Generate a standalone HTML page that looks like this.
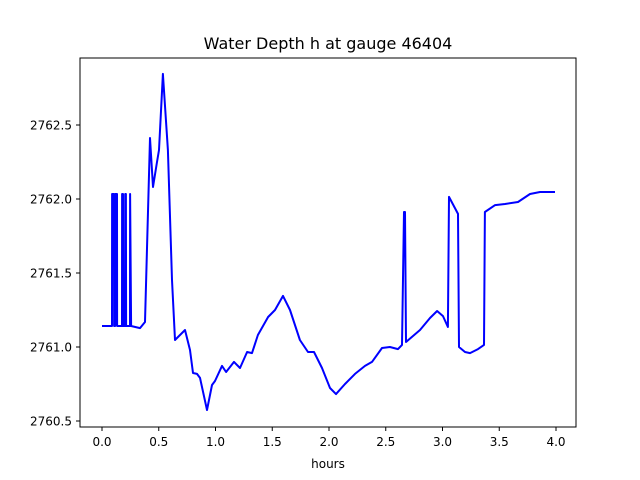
<!DOCTYPE html>
<html><head><meta charset="utf-8"><style>
body{margin:0;background:#fff}
svg{display:block;font-family:"DejaVu Sans","Liberation Sans",sans-serif}
</style></head><body>
<svg id="chart" width="640" height="480">
<rect x="0" y="0" width="640" height="480" fill="#fff"/>
<text x="328" y="49" font-size="16" text-anchor="middle">Water Depth h at gauge 46404</text>
<rect x="80" y="58" width="496" height="369" fill="none" stroke="#000" stroke-width="1"/>
<g id="xt"></g><g id="yt"></g>
<text x="328" y="468" font-size="12" text-anchor="middle">hours</text>
<path id="line" fill="none" stroke="#0000ff" stroke-width="2" stroke-linejoin="round"/>
</svg>
<script>
const xTicks=[0,0.5,1,1.5,2,2.5,3,3.5,4];
const xLabels=["0.0","0.5","1.0","1.5","2.0","2.5","3.0","3.5","4.0"];
const yTicks=[2760.5,2761,2761.5,2762,2762.5];
const yLabels=["2760.5","2761.0","2761.5","2762.0","2762.5"];
const hours=[0,0.088,0.089,0.106,0.107,0.115,0.116,0.132,0.133,0.176,0.177,0.185,0.186,0.203,0.204,0.211,0.212,0.247,0.248,0.256,0.335,0.379,0.423,0.449,0.485,0.502,0.537,0.581,0.617,0.643,0.687,0.731,0.775,0.802,0.837,0.863,0.925,0.969,0.996,1.057,1.093,1.163,1.216,1.278,1.322,1.374,1.463,1.524,1.595,1.656,1.744,1.815,1.868,1.938,2.009,2.062,2.141,2.229,2.317,2.379,2.467,2.537,2.608,2.643,2.661,2.670,2.678,2.802,2.890,2.952,3.004,3.048,3.057,3.137,3.145,3.198,3.242,3.313,3.366,3.374,3.463,3.551,3.665,3.771,3.859,3.991];
const depth=[2761.142,2761.142,2762.034,2762.034,2761.142,2761.142,2762.034,2762.034,2761.142,2761.142,2762.034,2762.034,2761.142,2761.142,2762.034,2762.034,2761.142,2761.142,2762.034,2761.142,2761.128,2761.169,2762.412,2762.081,2762.25,2762.331,2762.845,2762.331,2761.453,2761.047,2761.081,2761.115,2760.980,2760.824,2760.818,2760.791,2760.574,2760.743,2760.770,2760.872,2760.831,2760.899,2760.858,2760.966,2760.959,2761.081,2761.203,2761.25,2761.345,2761.25,2761.047,2760.966,2760.966,2760.858,2760.723,2760.682,2760.750,2760.818,2760.872,2760.899,2760.993,2761.0,2760.986,2761.014,2761.912,2761.912,2761.034,2761.115,2761.196,2761.243,2761.209,2761.135,2762.014,2761.899,2761.0,2760.966,2760.959,2760.986,2761.014,2761.912,2761.959,2761.966,2761.980,2762.034,2762.047,2762.047];
const NS="http://www.w3.org/2000/svg";
const xs=h=>102+h*113.5;
const ys=v=>421-(v-2760.5)*148;
const xt=document.getElementById('xt'),yt=document.getElementById('yt');
xTicks.forEach((t,i)=>{
 const l=document.createElementNS(NS,'line');
 l.setAttribute('x1',xs(t));l.setAttribute('x2',xs(t));l.setAttribute('y1',427);l.setAttribute('y2',431);l.setAttribute('stroke','#000');
 
 
 xt.appendChild(l);
 const tx=document.createElementNS(NS,'text');
 tx.setAttribute('x',xs(t));tx.setAttribute('y',446);tx.setAttribute('font-size','12');tx.setAttribute('text-anchor','middle');
 tx.textContent=xLabels[i];
 
 
 xt.appendChild(tx);
});
yTicks.forEach((t,i)=>{
 const l=document.createElementNS(NS,'line');
 l.setAttribute('x1',76);l.setAttribute('x2',80);l.setAttribute('y1',ys(t));l.setAttribute('y2',ys(t));l.setAttribute('stroke','#000');
 
 
 yt.appendChild(l);
 const tx=document.createElementNS(NS,'text');
 tx.setAttribute('x',72);tx.setAttribute('y',ys(t)+4.5);tx.setAttribute('font-size','12');tx.setAttribute('text-anchor','end');
 tx.textContent=yLabels[i];
 
 
 yt.appendChild(tx);
});
document.getElementById('line').setAttribute('d',hours.map((h,i)=>(i?'L':'M')+xs(h).toFixed(1)+','+ys(depth[i]).toFixed(1)).join(''));
</script>
</body></html>
